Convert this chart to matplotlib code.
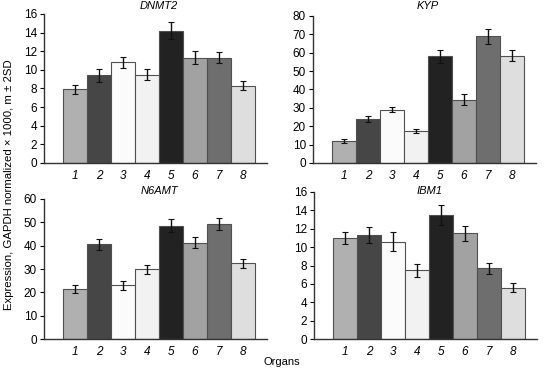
import matplotlib
matplotlib.use("Agg")
import matplotlib.pyplot as plt
import numpy as np

plt.rcParams["font.family"] = ["Liberation Sans", "DejaVu Sans"]

organs = ["1", "2", "3", "4", "5", "6", "7", "8"]
colors = ["#b0b0b0", "#464646", "#fbfbfb", "#f2f2f2", "#222222", "#a2a2a2", "#6e6e6e", "#dedede"]

dnmt2 = [7.9, 9.4, 10.8, 9.5, 14.2, 11.3, 11.3, 8.3]
dnmt2_err = [0.5, 0.7, 0.6, 0.6, 0.9, 0.7, 0.6, 0.5]
kyp = [12.0, 24.0, 29.0, 17.5, 58.0, 34.5, 69.0, 58.5]
kyp_err = [1.2, 1.6, 1.3, 1.0, 3.5, 2.8, 4.0, 3.0]
n6amt = [21.5, 40.5, 23.0, 29.8, 48.5, 41.3, 49.3, 32.5]
n6amt_err = [1.8, 2.5, 2.0, 2.0, 2.8, 2.5, 2.6, 2.0]
ibm1 = [11.0, 11.3, 10.6, 7.5, 13.5, 11.5, 7.7, 5.6]
ibm1_err = [0.7, 0.9, 1.0, 0.7, 1.1, 0.8, 0.6, 0.5]

W, H = 544, 370
fig = plt.figure(figsize=(W / 100, H / 100), dpi=100)

# (left px, top px, bottom px, title y px, title, values, errors, ymax, ystep)
panels = [
    (44, 14, 163, 6, "DNMT2", dnmt2, dnmt2_err, 16, 2),
    (313, 16, 163, 6, "KYP", kyp, kyp_err, 80, 10),
    (44, 199, 339, 191, "N6AMT", n6amt, n6amt_err, 60, 10),
    (314, 192, 339, 191, "IBM1", ibm1, ibm1_err, 16, 2),
]

x = np.arange(1, len(organs) + 1)
for left, top, bottom, ty, title, vals, errs, ymax, ystep in panels:
    ax = fig.add_axes([left / W, 1 - bottom / H, 223 / W, (bottom - top) / H])
    ax.bar(x, vals, width=1.0, color=colors, edgecolor="#505050", linewidth=0.8)
    eb = ax.errorbar(x, vals, yerr=errs, fmt="none", ecolor="#111111", elinewidth=1.0,
                     capsize=2, capthick=0.8)
    for cl in eb[1]:
        cl.set_color("#777777")
    ax.set_xlim(-0.3, 9.0)
    ax.set_ylim(0, ymax)
    ax.set_yticks(np.arange(0, ymax + 1, ystep))
    ax.set_xticks(x)
    ax.set_xticklabels(organs, fontstyle="italic")
    ax.tick_params(axis="x", length=0, pad=5, labelsize=8.5)
    ax.tick_params(axis="y", length=3, width=0.8, labelsize=8.5, pad=2)
    for s in ["top", "right"]:
        ax.spines[s].set_visible(False)
    for s in ["left", "bottom"]:
        ax.spines[s].set_linewidth(1.0)
        ax.spines[s].set_color("#333333")
    # title centred over the bars, placed in figure pixels
    tx = left + 223 * (4.5 + 0.3) / 9.3
    fig.text(tx / W, 1 - ty / H, title, fontstyle="italic", fontsize=8,
             ha="center", va="center")

fig.text(9 / W, 1 - 185 / H, "Expression, GAPDH normalized \u00d7 1000, m \u00b1 2SD",
         rotation=90, ha="center", va="center", fontsize=8.2)
fig.text(282 / W, 1 - 362 / H, "Organs", ha="center", va="center", fontsize=8)

fig.savefig("out.png", dpi=100)
